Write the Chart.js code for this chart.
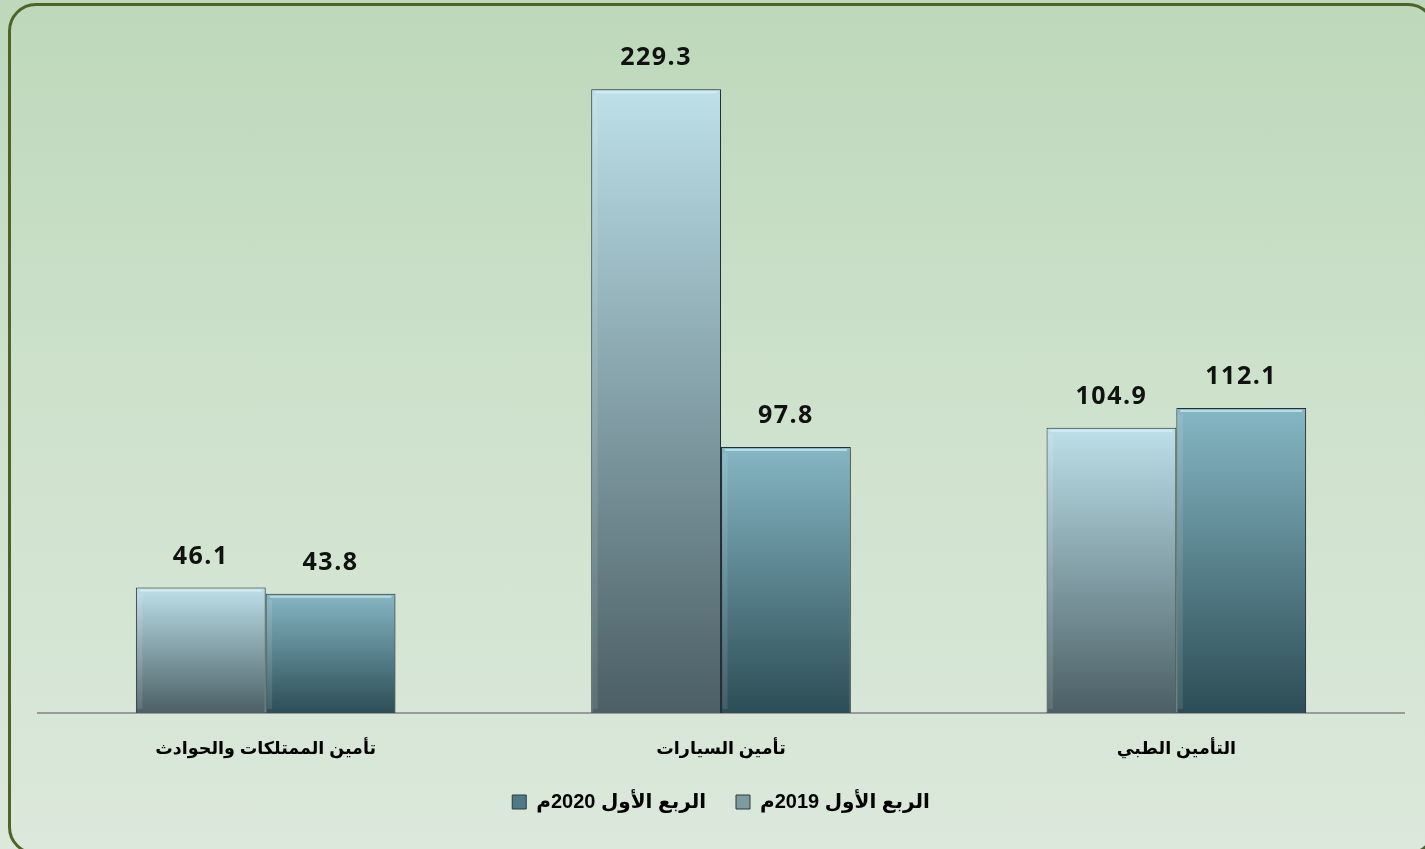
<!DOCTYPE html>
<html>
<head>
<meta charset="utf-8">
<script src="https://cdn.jsdelivr.net/npm/chart.js@4.4.1/dist/chart.umd.min.js"></script>
<style>
  html, body { margin: 0; padding: 0; }
  body {
    width: 1425px; height: 849px; overflow: hidden; position: relative;
    background: linear-gradient(to bottom, #bdd8bb 0%, #cfe2cd 50%, #dbe8db 100%);
  }
  #frame {
    position: absolute; left: 8px; top: 3px; width: 1428px; height: 852px;
    border: 3px solid #4f6228; border-radius: 28px; box-sizing: border-box;
    pointer-events: none;
  }
  #wrap { position: absolute; left: 0; top: 0; width: 1425px; height: 849px; }
</style>
</head>
<body>
<div id="wrap"><canvas id="insurance-chart"></canvas></div>
<div id="frame"></div>
<script>
const categories = ['تأمين الممتلكات والحوادث', 'تأمين السيارات', 'التأمين الطبي'];
const seriesNames = ['الربع الأول 2019م', 'الربع الأول 2020م'];
const q1_2019 = [46.1, 229.3, 104.9];
const q1_2020 = [43.8, 97.8, 112.1];

// top / bottom colours of each series' bar gradient
const shades = [
  ['#bde0e9', '#4b5f65'],
  ['#86b7c4', '#2c4d55'],
];

const barFill = (i) => (ctx) => {
  const chart = ctx.chart;
  const y = chart.scales.y;
  if (!chart.chartArea || !y || ctx.type !== 'data') return shades[i][1];
  const top = y.getPixelForValue(ctx.raw);
  const bottom = y.getPixelForValue(0);
  const g = chart.ctx.createLinearGradient(0, top, 0, bottom);
  g.addColorStop(0, shades[i][0]);
  g.addColorStop(1, shades[i][1]);
  return g;
};

const barShadow = {
  id: 'barShadow',
  beforeDatasetsDraw(chart) {
    const c = chart.ctx;
    c.save();
    c.shadowColor = 'rgba(0,0,0,0.25)';
    c.shadowBlur = 6;
    c.shadowOffsetX = 3;
    c.shadowOffsetY = 1;
  },
  afterDatasetsDraw(chart) {
    chart.ctx.restore();
    const c = chart.ctx;
    // light bevel edge and value labels
    chart.data.datasets.forEach((ds, di) => {
      chart.getDatasetMeta(di).data.forEach((bar, idx) => {
        const half = bar.width / 2;
        c.save();
        c.strokeStyle = 'rgba(230,250,255,0.55)';
        c.lineWidth = 2;
        c.beginPath();
        c.moveTo(bar.x - half + 4, bar.y + 3);
        c.lineTo(bar.x + half - 4, bar.y + 3);
        c.stroke();
        c.strokeStyle = 'rgba(255,255,255,0.10)';
        c.lineWidth = 5;
        c.beginPath();
        c.moveTo(bar.x - half + 4, bar.y + 6);
        c.lineTo(bar.x - half + 4, bar.base - 4);
        c.stroke();
        c.restore();

        c.save();
        c.font = 'bold 25px "Open Sans"';
        c.letterSpacing = '1.5px';
        c.fillStyle = '#111';
        c.textAlign = 'center';
        c.textBaseline = 'middle';
        c.fillText(ds.data[idx].toFixed(1), bar.x, bar.y - 31);
        c.restore();
      });
    });
  }
};

new Chart(document.getElementById('insurance-chart'), {
  type: 'bar',
  data: {
    labels: categories,
    datasets: [
      {
        label: seriesNames[0],
        data: q1_2019,
        backgroundColor: barFill(0),
        borderColor: '#2c3a3e',
        borderWidth: 1,
      },
      {
        label: seriesNames[1],
        data: q1_2020,
        backgroundColor: barFill(1),
        borderColor: '#243438',
        borderWidth: 1,
      },
    ],
  },
  options: {
    responsive: true,
    maintainAspectRatio: false,
    animation: false,
    layout: { padding: { top: 33, left: 38, right: 21, bottom: 27 } },
    datasets: { bar: { barPercentage: 1, categoryPercentage: 0.57 } },
    scales: {
      x: {
        grid: { display: false, drawTicks: false },
        border: { display: true, color: '#9a9a9a', width: 2 },
        ticks: {
          padding: 26,
          color: '#000',
          font: { family: '"Liberation Sans", "DejaVu Sans", sans-serif', size: 17.5, weight: 'bold' },
        },
        afterFit(scale) {
          scale.height -= 24;
        },
      },
      y: {
        display: false,
        min: 0,
        max: 250,
      },
    },
    plugins: {
      tooltip: { enabled: false },
      legend: {
        position: 'bottom',
        reverse: true,
        textDirection: 'rtl',
        labels: {
          boxWidth: 14,
          boxHeight: 14,
          padding: 30,
          color: '#000',
          font: { family: '"Liberation Sans", "DejaVu Sans", sans-serif', size: 20, weight: 'bold' },
          generateLabels(chart) {
            const mids = ['#7f9ba2', '#4d7a85'];
            return chart.data.datasets.map((ds, i) => ({
              text: ds.label,
              fillStyle: mids[i],
              strokeStyle: '#2c3a3e',
              lineWidth: 1,
              fontColor: '#000',
              datasetIndex: i,
              hidden: false,
            }));
          },
        },
      },
    },
  },
  plugins: [barShadow],
});
</script>
</body>
</html>
